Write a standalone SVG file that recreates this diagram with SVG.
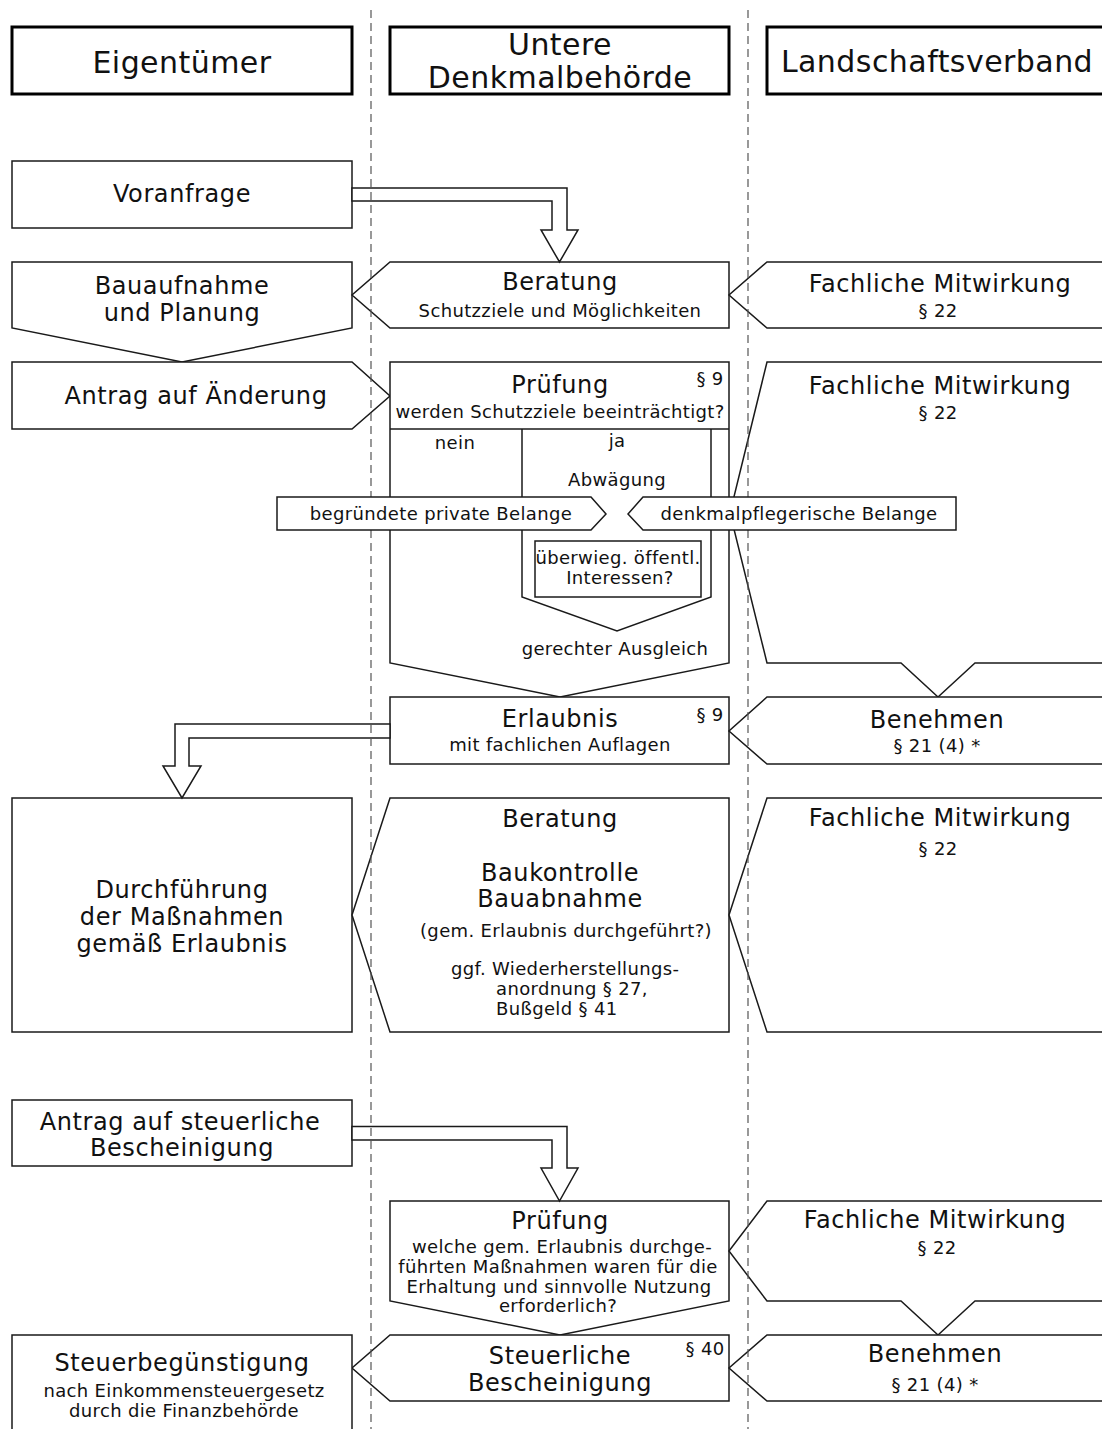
<svg xmlns="http://www.w3.org/2000/svg" width="1102" height="1429" viewBox="0 0 1102 1429">
<style>
.n{fill:#fff;stroke:#1a1a1a;stroke-width:1.5}
.l{fill:none;stroke:#1a1a1a;stroke-width:1.5}
.h{fill:#fff;stroke:#000;stroke-width:3}
text{font-family:"DejaVu Sans",Verdana,sans-serif;fill:#111;text-anchor:middle}
.big{font-size:24px;letter-spacing:0.6px}
.sm{font-size:18px;letter-spacing:0.35px}
.hd{font-size:30px;letter-spacing:0.45px}
.st{text-anchor:start}
.lane{stroke:#555;stroke-width:1.2;stroke-dasharray:8 5;fill:none}
</style>
<rect width="1102" height="1429" fill="#fff"/>
<g id="header-eigentuemer"><rect class="h" x="12" y="27" width="340" height="67"/><text class="hd" x="182" y="73">Eigentümer</text></g>
<g id="header-udb"><rect class="h" x="390" y="27" width="339" height="67"/><text class="hd" x="560" y="55">Untere</text><text class="hd" x="560" y="88">Denkmalbehörde</text></g>
<g id="header-lv"><rect class="h" x="767" y="27" width="345" height="67"/><text class="hd" x="937" y="72">Landschaftsverband</text></g>

<g id="voranfrage"><rect class="n" x="12" y="161" width="340" height="67"/><text class="big" x="182" y="202">Voranfrage</text></g>
<g id="bauaufnahme"><polygon class="n" points="12,262 352,262 352,328 182,362 12,328"/><text class="big" x="182" y="294">Bauaufnahme</text><text class="big" x="182" y="321">und Planung</text></g>
<g id="beratung1"><polygon class="n" points="390,262 729,262 729,328 390,328 352,295"/><text class="big" x="560" y="290">Beratung</text><text class="sm" x="560" y="317">Schutzziele und Möglichkeiten</text></g>
<g id="fachlich1"><polygon class="n" points="767,262 1110,262 1110,328 767,328 729,295"/><text class="big" x="940" y="292">Fachliche Mitwirkung</text><text class="sm" x="938" y="317">§ 22</text></g>
<g id="antrag"><polygon class="n" points="12,362 352,362 390,396 352,429 12,429"/><text class="big" x="196" y="404">Antrag auf Änderung</text></g>
<g id="pruefung1"><polygon class="n" points="390,362 729,362 729,663 560,697 390,663"/><line class="l" x1="390" y1="429" x2="729" y2="429"/><polyline class="l" points="522,429 522,597 617,631 711,597 711,429"/><rect class="n" x="535" y="541" width="166" height="56"/>
<text class="big" x="560" y="393">Prüfung</text><text class="sm" x="710" y="385">§ 9</text><text class="sm" x="560" y="418">werden Schutzziele beeinträchtigt?</text>
<text class="sm" x="455" y="449">nein</text><text class="sm" x="617" y="447">ja</text><text class="sm" x="617" y="486">Abwägung</text>
<text class="sm" x="618" y="564">überwieg. öffentl.</text><text class="sm" x="620" y="584">Interessen?</text>
<text class="sm" x="615" y="655">gerechter Ausgleich</text></g>
<g id="fachlich2"><polygon class="n" points="767,362 1110,362 1110,663 975,663 938,697 901,663 767,663 730,513"/><text class="big" x="940" y="394">Fachliche Mitwirkung</text><text class="sm" x="938" y="419">§ 22</text></g>
<g id="erlaubnis"><rect class="n" x="390" y="697" width="339" height="67"/><text class="big" x="560" y="727">Erlaubnis</text><text class="sm" x="560" y="751">mit fachlichen Auflagen</text><text class="sm" x="710" y="721">§ 9</text></g>
<g id="benehmen1"><polygon class="n" points="767,697 1110,697 1110,764 767,764 729,731"/><text class="big" x="937" y="728">Benehmen</text><text class="sm" x="937" y="752">§ 21 (4) *</text></g>

<g id="durchfuehrung"><rect class="n" x="12" y="798" width="340" height="234"/><text class="big" x="182" y="898">Durchführung</text><text class="big" x="182" y="925">der Maßnahmen</text><text class="big" x="182" y="952">gemäß Erlaubnis</text></g>
<g id="beratung2"><polygon class="n" points="390,798 729,798 729,1032 390,1032 352,915"/><text class="big" x="560" y="827">Beratung</text><text class="big" x="560" y="881">Baukontrolle</text><text class="big" x="560" y="907">Bauabnahme</text><text class="sm" x="566" y="937">(gem. Erlaubnis durchgeführt?)</text>
<text class="sm st" x="451" y="975">ggf. Wiederherstellungs-</text><text class="sm st" x="496" y="995">anordnung § 27,</text><text class="sm st" x="496" y="1015">Bußgeld § 41</text></g>
<g id="fachlich3"><polygon class="n" points="767,798 1110,798 1110,1032 767,1032 729,915"/><text class="big" x="940" y="826">Fachliche Mitwirkung</text><text class="sm" x="938" y="855">§ 22</text></g>

<g id="antrag-steuer"><rect class="n" x="12" y="1100" width="340" height="66"/><text class="big" x="180" y="1130">Antrag auf steuerliche</text><text class="big" x="182" y="1156">Bescheinigung</text></g>
<g id="pruefung2"><polygon class="n" points="390,1201 729,1201 729,1301 560,1335 390,1301"/><text class="big" x="560" y="1229">Prüfung</text><text class="sm" x="562" y="1253">welche gem. Erlaubnis durchge-</text><text class="sm" x="558" y="1273">führten Maßnahmen waren für die</text><text class="sm" x="559" y="1293">Erhaltung und sinnvolle Nutzung</text><text class="sm" x="558" y="1312">erforderlich?</text></g>
<g id="fachlich4"><polygon class="n" points="767,1201 1110,1201 1110,1301 975,1301 938,1335 901,1301 767,1301 729,1251"/><text class="big" x="935" y="1228">Fachliche Mitwirkung</text><text class="sm" x="937" y="1254">§ 22</text></g>
<g id="steuerbescheinigung"><polygon class="n" points="390,1335 729,1335 729,1401 390,1401 352,1368"/><text class="big" x="560" y="1364">Steuerliche</text><text class="big" x="560" y="1391">Bescheinigung</text><text class="sm" x="705" y="1355">§ 40</text></g>
<g id="benehmen2"><polygon class="n" points="767,1335 1110,1335 1110,1401 767,1401 729,1368"/><text class="big" x="935" y="1362">Benehmen</text><text class="sm" x="935" y="1391">§ 21 (4) *</text></g>
<g id="steuerbeguenstigung"><rect class="n" x="12" y="1335" width="340" height="110"/><text class="big" x="182" y="1371">Steuerbegünstigung</text><text class="sm" x="184" y="1397">nach Einkommensteuergesetz</text><text class="sm" x="184" y="1417">durch die Finanzbehörde</text></g>

<g id="connectors">
<polygon class="n" points="352,188 567,188 567,230 578,230 559.5,262 541,230 552,230 552,201 352,201"/>
<polygon class="n" points="390,724 175,724 175,766 163,766 182,798 201,766 189,766 189,738 390,738"/>
<polygon class="n" points="352,1126.5 567,1126.5 567,1168 578,1168 559.5,1201 541,1168 552,1168 552,1140 352,1140"/>
</g>

<g id="lanes">
<line class="lane" x1="371" y1="10" x2="371" y2="1429"/>
<line class="lane" x1="748" y1="10" x2="748" y2="1429"/>
</g>

<g id="private-belange"><polygon class="n" points="277,497 591,497 606,514 591,530 277,530"/><text class="sm" x="441" y="520">begründete private Belange</text></g>
<g id="denkmal-belange"><polygon class="n" points="643,497 956,497 956,530 643,530 628,514"/><text class="sm" x="799" y="520">denkmalpflegerische Belange</text></g>
</svg>
